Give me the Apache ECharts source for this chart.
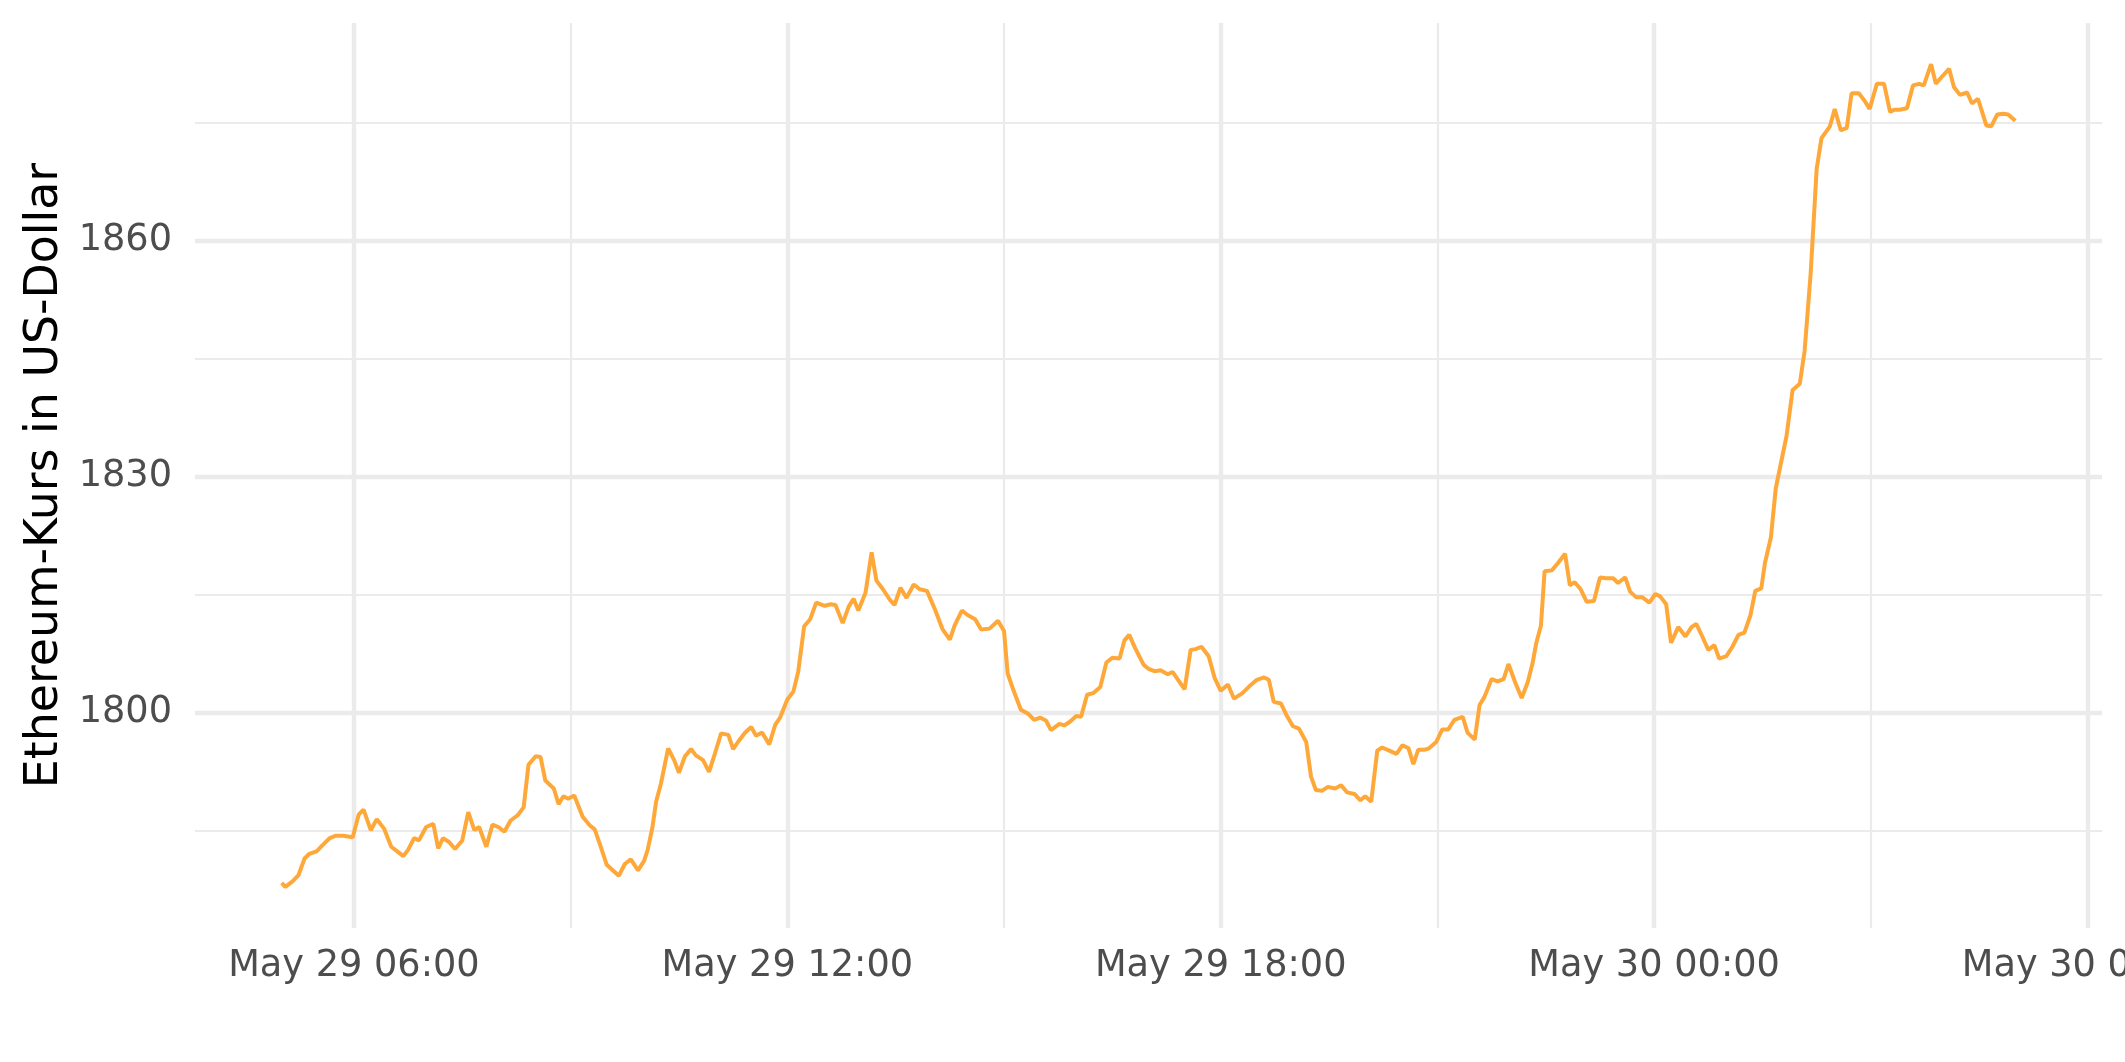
<!DOCTYPE html>
<html>
<head>
<meta charset="utf-8">
<script src="https://cdn.jsdelivr.net/npm/echarts@6/dist/echarts.min.js"></script>
<style>
  html, body { margin: 0; padding: 0; background: #ffffff; }
  #chart { width: 2125px; height: 1062px; }
</style>
</head>
<body>
<div id="chart"></div>
<script>
// Series start (local time) and minutes after start for each point
const seriesStart = '2023-05-29 05:00';
const minutesFromStart = [
  0, 3, 9, 14, 19, 23, 29, 34, 40, 45, 51, 55, 59, 64, 68, 74, 79, 85, 91, 96,
  101, 105, 110, 114, 120, 126, 130, 134, 139, 144, 150, 155, 160, 164, 170, 175, 180, 185, 190, 196,
  201, 205, 211, 215, 219, 226, 230, 234, 238, 243, 250, 256, 260, 265, 270, 275, 280, 285, 290, 296,
  301, 304, 308, 311, 315, 321, 326, 330, 335, 340, 344, 350, 355, 360, 365, 371, 375, 379, 385, 390,
  394, 399, 405, 410, 414, 420, 425, 429, 434, 439, 444, 451, 456, 460, 466, 471, 475, 479, 485, 490,
  494, 499, 505, 509, 514, 519, 525, 530, 536, 543, 549, 555, 559, 565, 570, 576, 581, 588, 595, 600,
  603, 608, 614, 620, 625, 630, 635, 639, 646, 650, 655, 660, 664, 669, 674, 680, 685, 690, 696, 700,
  704, 709, 716, 720, 725, 730, 736, 740, 745, 750, 755, 759, 764, 770, 775, 780, 786, 791, 798, 804,
  810, 816, 820, 824, 830, 835, 840, 845, 851, 855, 859, 864, 869, 875, 880, 885, 891, 896, 900, 905,
  910, 914, 920, 926, 931, 936, 940, 944, 949, 953, 959, 964, 969, 974, 981, 985, 991, 995, 999, 1005,
  1010, 1015, 1019, 1025, 1030, 1035, 1039, 1042, 1046, 1049, 1055, 1060, 1066, 1070, 1074, 1079, 1084, 1090, 1095, 1100,
  1106, 1110, 1116, 1120, 1125, 1130, 1136, 1141, 1145, 1150, 1154, 1160, 1166, 1171, 1175, 1180, 1185, 1190, 1194, 1200,
  1205, 1210, 1215, 1220, 1224, 1229, 1232, 1237, 1241, 1250, 1255, 1261, 1265, 1270, 1275, 1279, 1286, 1290, 1295, 1300,
  1304, 1310, 1315, 1319, 1325, 1331, 1336, 1339, 1344, 1350, 1355, 1360, 1364, 1370, 1374, 1379, 1385, 1389, 1394, 1400,
  1404, 1409, 1416, 1420, 1425, 1430, 1434, 1440
];
// Ethereum price in US dollars at each point
const priceUsd = [
  1778.4, 1777.9, 1778.6, 1779.4, 1781.5, 1782.1, 1782.4, 1783.2, 1784.1, 1784.4, 1784.4, 1784.3, 1784.2, 1787.1, 1787.7, 1785.1, 1786.5, 1785.3, 1783.0, 1782.4,
  1781.8, 1782.6, 1784.1, 1783.8, 1785.5, 1785.9, 1782.8, 1784.1, 1783.6, 1782.7, 1783.8, 1787.4, 1785.1, 1785.5, 1783.0, 1785.8, 1785.5, 1784.9, 1786.3, 1787.0,
  1788.0, 1793.4, 1794.5, 1794.4, 1791.4, 1790.4, 1788.4, 1789.4, 1789.1, 1789.5, 1786.8, 1785.7, 1785.2, 1783.0, 1780.7, 1780.0, 1779.3, 1780.8, 1781.4, 1780.0,
  1781.2, 1782.6, 1785.5, 1788.7, 1791.0, 1795.5, 1794.0, 1792.4, 1794.5, 1795.4, 1794.6, 1794.0, 1792.5, 1794.9, 1797.4, 1797.2, 1795.4, 1796.3, 1797.5, 1798.2,
  1797.1, 1797.5, 1796.0, 1798.5, 1799.4, 1801.7, 1802.7, 1805.2, 1811.0, 1811.9, 1814.0, 1813.6, 1813.8, 1813.7, 1811.4, 1813.5, 1814.5, 1813.0, 1815.3, 1820.4,
  1816.8, 1815.8, 1814.4, 1813.7, 1815.9, 1814.6, 1816.3, 1815.7, 1815.5, 1813.0, 1810.6, 1809.3, 1811.1, 1813.0, 1812.4, 1811.9, 1810.6, 1810.7, 1811.7, 1810.4,
  1805.0, 1802.8, 1800.4, 1799.9, 1799.1, 1799.4, 1799.0, 1797.8, 1798.6, 1798.4, 1798.9, 1799.6, 1799.5, 1802.3, 1802.5, 1803.3, 1806.4, 1807.0, 1806.9, 1809.2,
  1809.9, 1808.2, 1806.1, 1805.6, 1805.3, 1805.4, 1804.9, 1805.2, 1804.1, 1803.0, 1808.0, 1808.1, 1808.4, 1807.2, 1804.4, 1802.8, 1803.6, 1801.8, 1802.5, 1803.4,
  1804.2, 1804.5, 1804.2, 1801.4, 1801.2, 1799.6, 1798.3, 1798.0, 1796.3, 1791.9, 1790.2, 1790.1, 1790.6, 1790.4, 1790.8, 1789.9, 1789.7, 1788.9, 1789.4, 1788.7,
  1795.2, 1795.6, 1795.2, 1794.8, 1795.9, 1795.5, 1793.5, 1795.3, 1795.3, 1795.5, 1796.3, 1797.9, 1797.9, 1799.1, 1799.5, 1797.5, 1796.6, 1801.0, 1802.0, 1804.3,
  1804.0, 1804.3, 1806.2, 1803.7, 1801.9, 1803.9, 1806.3, 1808.8, 1811.1, 1818.0, 1818.1, 1819.0, 1820.2, 1816.2, 1816.6, 1815.7, 1814.1, 1814.2, 1817.2, 1817.1,
  1817.1, 1816.5, 1817.2, 1815.4, 1814.7, 1814.7, 1814.0, 1815.1, 1814.8, 1813.8, 1808.9, 1810.9, 1809.7, 1810.9, 1811.3, 1809.7, 1808.0, 1808.6, 1806.9, 1807.2,
  1808.4, 1809.9, 1810.2, 1812.4, 1815.5, 1815.8, 1819.0, 1822.3, 1828.5, 1835.2, 1841.0, 1841.8, 1846.0, 1855.8, 1869.1, 1873.0, 1874.5, 1876.7, 1874.0, 1874.3,
  1878.7, 1878.7, 1877.7, 1876.7, 1879.9, 1879.9, 1876.3, 1876.6, 1876.6, 1876.8, 1879.7, 1879.9, 1879.7, 1882.4, 1879.9, 1880.8, 1881.8, 1879.5, 1878.5, 1878.8,
  1877.4, 1878.0, 1874.6, 1874.5, 1876.0, 1876.1, 1876.0, 1875.2
];
// Tick positions
const xMajorTicks = ['2023-05-29 06:00', '2023-05-29 12:00', '2023-05-29 18:00', '2023-05-30 00:00', '2023-05-30 06:00'];
const xMinorTicks = ['2023-05-29 09:00', '2023-05-29 15:00', '2023-05-29 21:00', '2023-05-30 03:00'];
const yMajorTicks = [1800, 1830, 1860];
const yMinorTicks = [1785, 1815, 1845, 1875];
const yAxisTitle = 'Ethereum-Kurs in US-Dollar';

function parseLocal(s) {
  const [d, t] = s.split(' ');
  const [Y, M, D] = d.split('-').map(Number);
  const [h, m] = t.split(':').map(Number);
  return new Date(Y, M - 1, D, h, m, 0).getTime();
}
const startMs = parseLocal(seriesStart);
const points = minutesFromStart.map((m, i) => [startMs + m * 60000, priceUsd[i]]);

const xs = points.map(p => p[0]);
const xLo = Math.min(...xs), xHi = Math.max(...xs);
const yLo = Math.min(...priceUsd), yHi = Math.max(...priceUsd);
const xMin = xLo - 0.05 * (xHi - xLo), xMax = xHi + 0.05 * (xHi - xLo);
const yMin = yLo - 0.05 * (yHi - yLo), yMax = yHi + 0.05 * (yHi - yLo);

const MONTHS = ['Jan','Feb','Mar','Apr','May','Jun','Jul','Aug','Sep','Oct','Nov','Dec'];
const pad = n => String(n).padStart(2, '0');
function fmtTime(v) {
  const d = new Date(v);
  return MONTHS[d.getMonth()] + ' ' + pad(d.getDate()) + ' ' + pad(d.getHours()) + ':' + pad(d.getMinutes());
}

const FONT = 'DejaVu Sans';
const GRID_COLOR = '#EBEBEB';

const chart = echarts.init(document.getElementById('chart'), null, { renderer: 'canvas' });
chart.setOption({
  animation: false,
  backgroundColor: '#ffffff',
  grid: { left: 195, right: 23, top: 23, bottom: 134, containLabel: false, outerBoundsMode: 'none' },
  xAxis: [
    {
      type: 'value', min: xMin, max: xMax, position: 'bottom', scale: true,
      axisLine: { show: false }, axisTick: { show: false, customValues: xMajorTicks.map(parseLocal) },
      axisLabel: {
        customValues: xMajorTicks.map(parseLocal), formatter: v => fmtTime(v),
        color: '#4D4D4D', fontFamily: FONT, fontSize: 36.7, margin: 20, hideOverlap: false
      },
      splitLine: { show: true, lineStyle: { color: GRID_COLOR, width: 4.4 } }
    },
    {
      type: 'value', min: xMin, max: xMax, position: 'top', scale: true,
      axisLine: { show: false }, axisTick: { show: false, customValues: xMinorTicks.map(parseLocal) },
      axisLabel: { show: false, customValues: xMinorTicks.map(parseLocal) },
      splitLine: { show: true, lineStyle: { color: GRID_COLOR, width: 2.2 } }
    }
  ],
  yAxis: [
    {
      type: 'value', min: yMin, max: yMax, position: 'left', scale: true,
      name: yAxisTitle, nameLocation: 'middle', nameGap: 117,
      nameTextStyle: { color: '#000000', fontFamily: FONT, fontSize: 45.8 },
      axisLine: { show: false }, axisTick: { show: false, customValues: yMajorTicks },
      axisLabel: {
        customValues: yMajorTicks, formatter: v => String(Math.round(v)),
        color: '#4D4D4D', fontFamily: FONT, fontSize: 36.7, margin: 23
      },
      splitLine: { show: true, lineStyle: { color: GRID_COLOR, width: 4.4 } }
    },
    {
      type: 'value', min: yMin, max: yMax, position: 'right', scale: true,
      axisLine: { show: false }, axisTick: { show: false, customValues: yMinorTicks },
      axisLabel: { show: false, customValues: yMinorTicks },
      splitLine: { show: true, lineStyle: { color: GRID_COLOR, width: 2.2 } }
    }
  ],
  series: [{
    type: 'line', xAxisIndex: 0, yAxisIndex: 0,
    data: points, showSymbol: false, symbol: 'none',
    lineStyle: { color: '#FFA83A', width: 4 },
    z: 5
  }]
});
</script>
</body>
</html>
